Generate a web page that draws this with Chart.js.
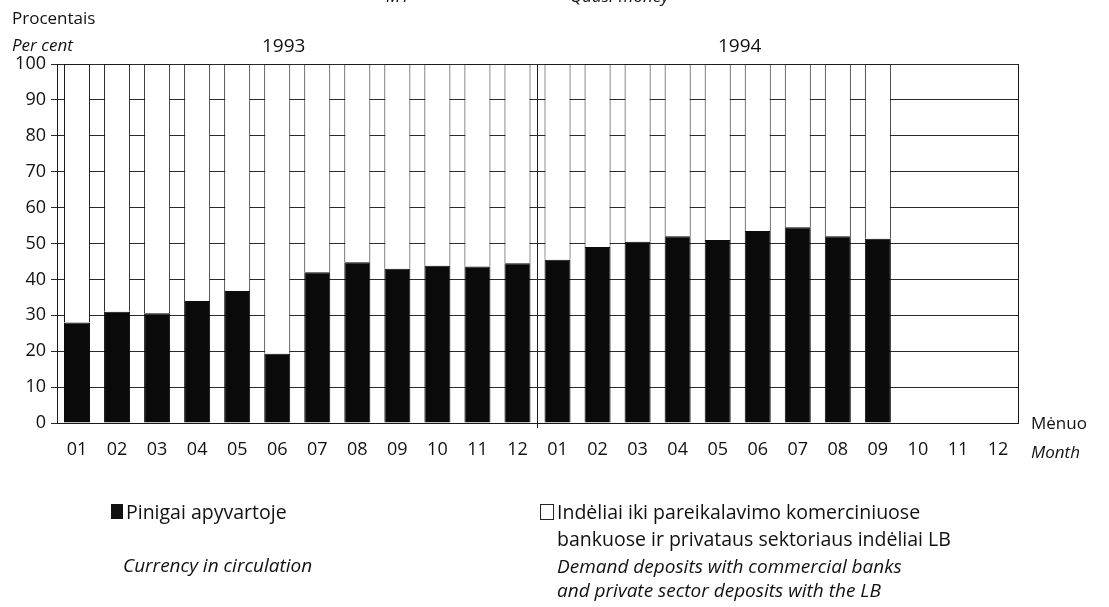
<!DOCTYPE html>
<html>
<head>
<meta charset="utf-8">
<script src="https://cdn.jsdelivr.net/npm/chart.js@4"></script>
<style>
  body { margin: 0; background: #fff; }
  #wrap { position: relative; width: 1109px; height: 607px; overflow: hidden; font-family: "Open Sans", sans-serif; color: #111; }
  canvas { position: absolute; left: 0; top: 0; }
  .t { position: absolute; font-size: 17px; line-height: 22px; white-space: nowrap; }
  .i { font-style: italic; }
  .lg { font-size: 19.5px; }
  .sq { position: absolute; box-sizing: border-box; }
</style>
</head>
<body>
<div id="wrap">
  <canvas id="grafico" width="1109" height="607"></canvas>

  <div class="t i" style="left:386px; top:-15px;">M1</div>
  <div class="t i" style="left:570px; top:-15px;">Quasi-money</div>

  <div class="t" style="left:12px; top:7px;">Procentais</div>
  <div class="t i" style="left:12px; top:34px;">Per cent</div>
  <div class="t" style="left:262px; top:34px; font-size:19px;">1993</div>
  <div class="t" style="left:718px; top:34px; font-size:19px;">1994</div>

  <div class="t" style="left:1031px; top:412px;">Mėnuo</div>
  <div class="t i" style="left:1031px; top:441px;">Month</div>

  <!-- Legenda -->
  <div class="sq" style="left:111px; top:504px; width:12px; height:15px; background:#111;"></div>
  <div class="t lg" style="left:126px; top:501px;">Pinigai apyvartoje</div>
  <div class="t i lg" style="left:123px; top:554px; font-size:19px;">Currency in circulation</div>

  <div class="sq" style="left:540px; top:504px; width:14px; height:16px; border:1px solid #222; background:#fff;"></div>
  <div class="t lg" style="left:557px; top:501px;">Indėliai iki pareikalavimo komerciniuose</div>
  <div class="t lg" style="left:557px; top:528px;">bankuose ir privataus sektoriaus indėliai LB</div>
  <div class="t i lg" style="left:557px; top:555px; font-size:19px;">Demand deposits with commercial banks</div>
  <div class="t i lg" style="left:557px; top:579px; font-size:19px;">and private sector deposits with the LB</div>
</div>

<script>
// Mėnesiai (1993 ir 1994)
const menesiai = ['01','02','03','04','05','06','07','08','09','10','11','12',
                  '01','02','03','04','05','06','07','08','09','10','11','12'];

// Pinigai apyvartoje, % nuo M1
const pinigai = [28, 31, 30.6, 34, 36.8, 19.3, 42, 44.8, 43, 43.8, 43.6, 44.5,
                 45.5, 49, 50.5, 52, 51, 53.5, 54.5, 52, 51.3, null, null, null];

// Indėliai iki pareikalavimo, % nuo M1
const indeliai = [72, 69, 69.4, 66, 63.2, 80.7, 58, 55.2, 57, 56.2, 56.4, 55.5,
                  54.5, 51, 49.5, 48, 49, 46.5, 45.5, 48, 48.7, null, null, null];

const yMin = 0;
const yMax = 100;
const yZingsnis = 10;

const kairė = 57, dešinė = 1018, viršus = 64, apačia = 423;
const linija = '#1a1a1a';

new Chart(document.getElementById('grafico'), {
  type: 'bar',
  data: {
    labels: menesiai,
    datasets: [
      {
        label: 'Pinigai apyvartoje',
        data: pinigai,
        backgroundColor: '#0a0a0a',
        borderColor: '#0a0a0a',
        borderWidth: 1
      },
      {
        label: 'Indėliai iki pareikalavimo',
        data: indeliai,
        backgroundColor: '#ffffff',
        borderColor: linija,
        borderWidth: 1
      }
    ]
  },
  options: {
    responsive: false,
    animation: false,
    devicePixelRatio: 1,
    barPercentage: 0.65,
    categoryPercentage: 1,
    layout: { padding: { left: 0, top: viršus, right: 1109 - dešinė, bottom: 607 - apačia - 40 } },
    plugins: { legend: { display: false }, tooltip: { enabled: false } },
    scales: {
      x: {
        stacked: true,
        afterFit: s => { s.height = 40; },
        grid: {
          offset: true,
          color: c => c.index === 12 ? linija : 'rgba(0,0,0,0)',
          tickColor: c => c.index === 12 ? linija : 'rgba(0,0,0,0)',
          tickLength: 5
        },
        border: { color: linija },
        ticks: { color: '#111', font: { family: 'Open Sans', size: 18 }, padding: 11, maxRotation: 0, autoSkip: false }
      },
      y: {
        stacked: true,
        min: yMin,
        max: yMax,
        afterFit: s => { s.width = kairė; },
        grid: { color: '#2a2a2a', tickColor: '#2a2a2a', tickLength: 6 },
        border: { color: linija },
        ticks: { stepSize: yZingsnis, color: '#111', font: { family: 'Open Sans', size: 18 }, padding: 5 }
      },
      // dešinysis rėmas
      y2: {
        position: 'right',
        min: yMin,
        max: yMax,
        afterFit: s => { s.width = 0; },
        grid: { drawOnChartArea: false, drawTicks: false },
        border: { color: linija },
        ticks: { display: false }
      }
    }
  }
});
</script>
</body>
</html>
